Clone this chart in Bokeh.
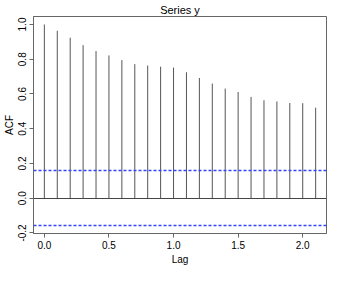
from bokeh.plotting import figure
from bokeh.models import Range1d, FixedTicker, ColumnDataSource
from bokeh.embed import file_html
from bokeh.resources import INLINE

lags = [0.0, 0.1, 0.2, 0.3, 0.4, 0.5, 0.6, 0.7, 0.8, 0.9, 1.0,
        1.1, 1.2, 1.3, 1.4, 1.5, 1.6, 1.7, 1.8, 1.9, 2.0, 2.1]
acf = [1.000, 0.964, 0.924, 0.881, 0.847, 0.822, 0.795, 0.772, 0.764, 0.757, 0.752,
       0.725, 0.692, 0.660, 0.631, 0.611, 0.583, 0.564, 0.557, 0.548, 0.547, 0.521]
conf_upper = 0.157
conf_lower = -0.157
x_ticks = [0.0, 0.5, 1.0, 1.5, 2.0]
x_tick_labels = ["0.0", "0.5", "1.0", "1.5", "2.0"]
y_ticks = [-0.2, 0.0, 0.2, 0.4, 0.6, 0.8, 1.0]
y_tick_labels = ["-0.2", "0.0", "0.2", "0.4", "0.6", "0.8", "1.0"]

FONT = "Liberation Sans"
AX = "#666666"

p = figure(width=328, height=267, output_backend="svg", toolbar_location=None,
           x_range=Range1d(-0.084, 2.184), y_range=Range1d(-0.203, 1.046),
           title="Series y", x_axis_label="Lag", y_axis_label="ACF",
           min_border_left=31, min_border_right=2, min_border_top=2, min_border_bottom=30)

p.title.text_font = FONT
p.title.text_font_size = "11px"
p.title.text_font_style = "normal"
p.title.text_color = "black"
p.title.align = "center"
p.title.standoff = 2
p.title.offset = 0

p.grid.visible = False
p.outline_line_color = AX
p.outline_line_width = 1
p.background_fill_color = "white"
p.border_fill_color = "white"

for ax in (p.xaxis[0], p.yaxis[0]):
    ax.axis_line_color = AX
    ax.major_tick_line_color = AX
    ax.minor_tick_line_color = None
    ax.major_tick_in = 0
    ax.major_tick_out = 4
    ax.major_label_text_font = FONT
    ax.major_label_text_font_size = "10px"
    ax.major_label_text_color = "black"
    ax.axis_label_text_font = FONT
    ax.axis_label_text_font_size = "10px"
    ax.axis_label_text_font_style = "normal"
    ax.axis_label_text_color = "black"

p.xaxis[0].ticker = FixedTicker(ticks=x_ticks)
p.xaxis[0].major_label_overrides = {t: l for t, l in zip(x_ticks, x_tick_labels)}
p.xaxis[0].major_label_standoff = 3
p.xaxis[0].axis_label_standoff = 2

p.yaxis[0].ticker = FixedTicker(ticks=y_ticks)
p.yaxis[0].major_label_overrides = {t: l for t, l in zip(y_ticks, y_tick_labels)}
p.yaxis[0].major_label_orientation = "vertical"
p.yaxis[0].major_label_standoff = 3
p.yaxis[0].axis_label_standoff = 1

src = ColumnDataSource(dict(lag=lags, acf=acf, zero=[0.0] * len(lags)))
p.segment(x0="lag", y0="zero", x1="lag", y1="acf", source=src,
          line_color="#555555", line_width=1)

p.hspan(y=[0.0], line_color="#444444", line_width=1)
p.hspan(y=[conf_upper, conf_lower], line_color="#3344ff", line_width=1.4, line_dash="3 2")

open("out.html", "w").write(file_html(p, INLINE))
